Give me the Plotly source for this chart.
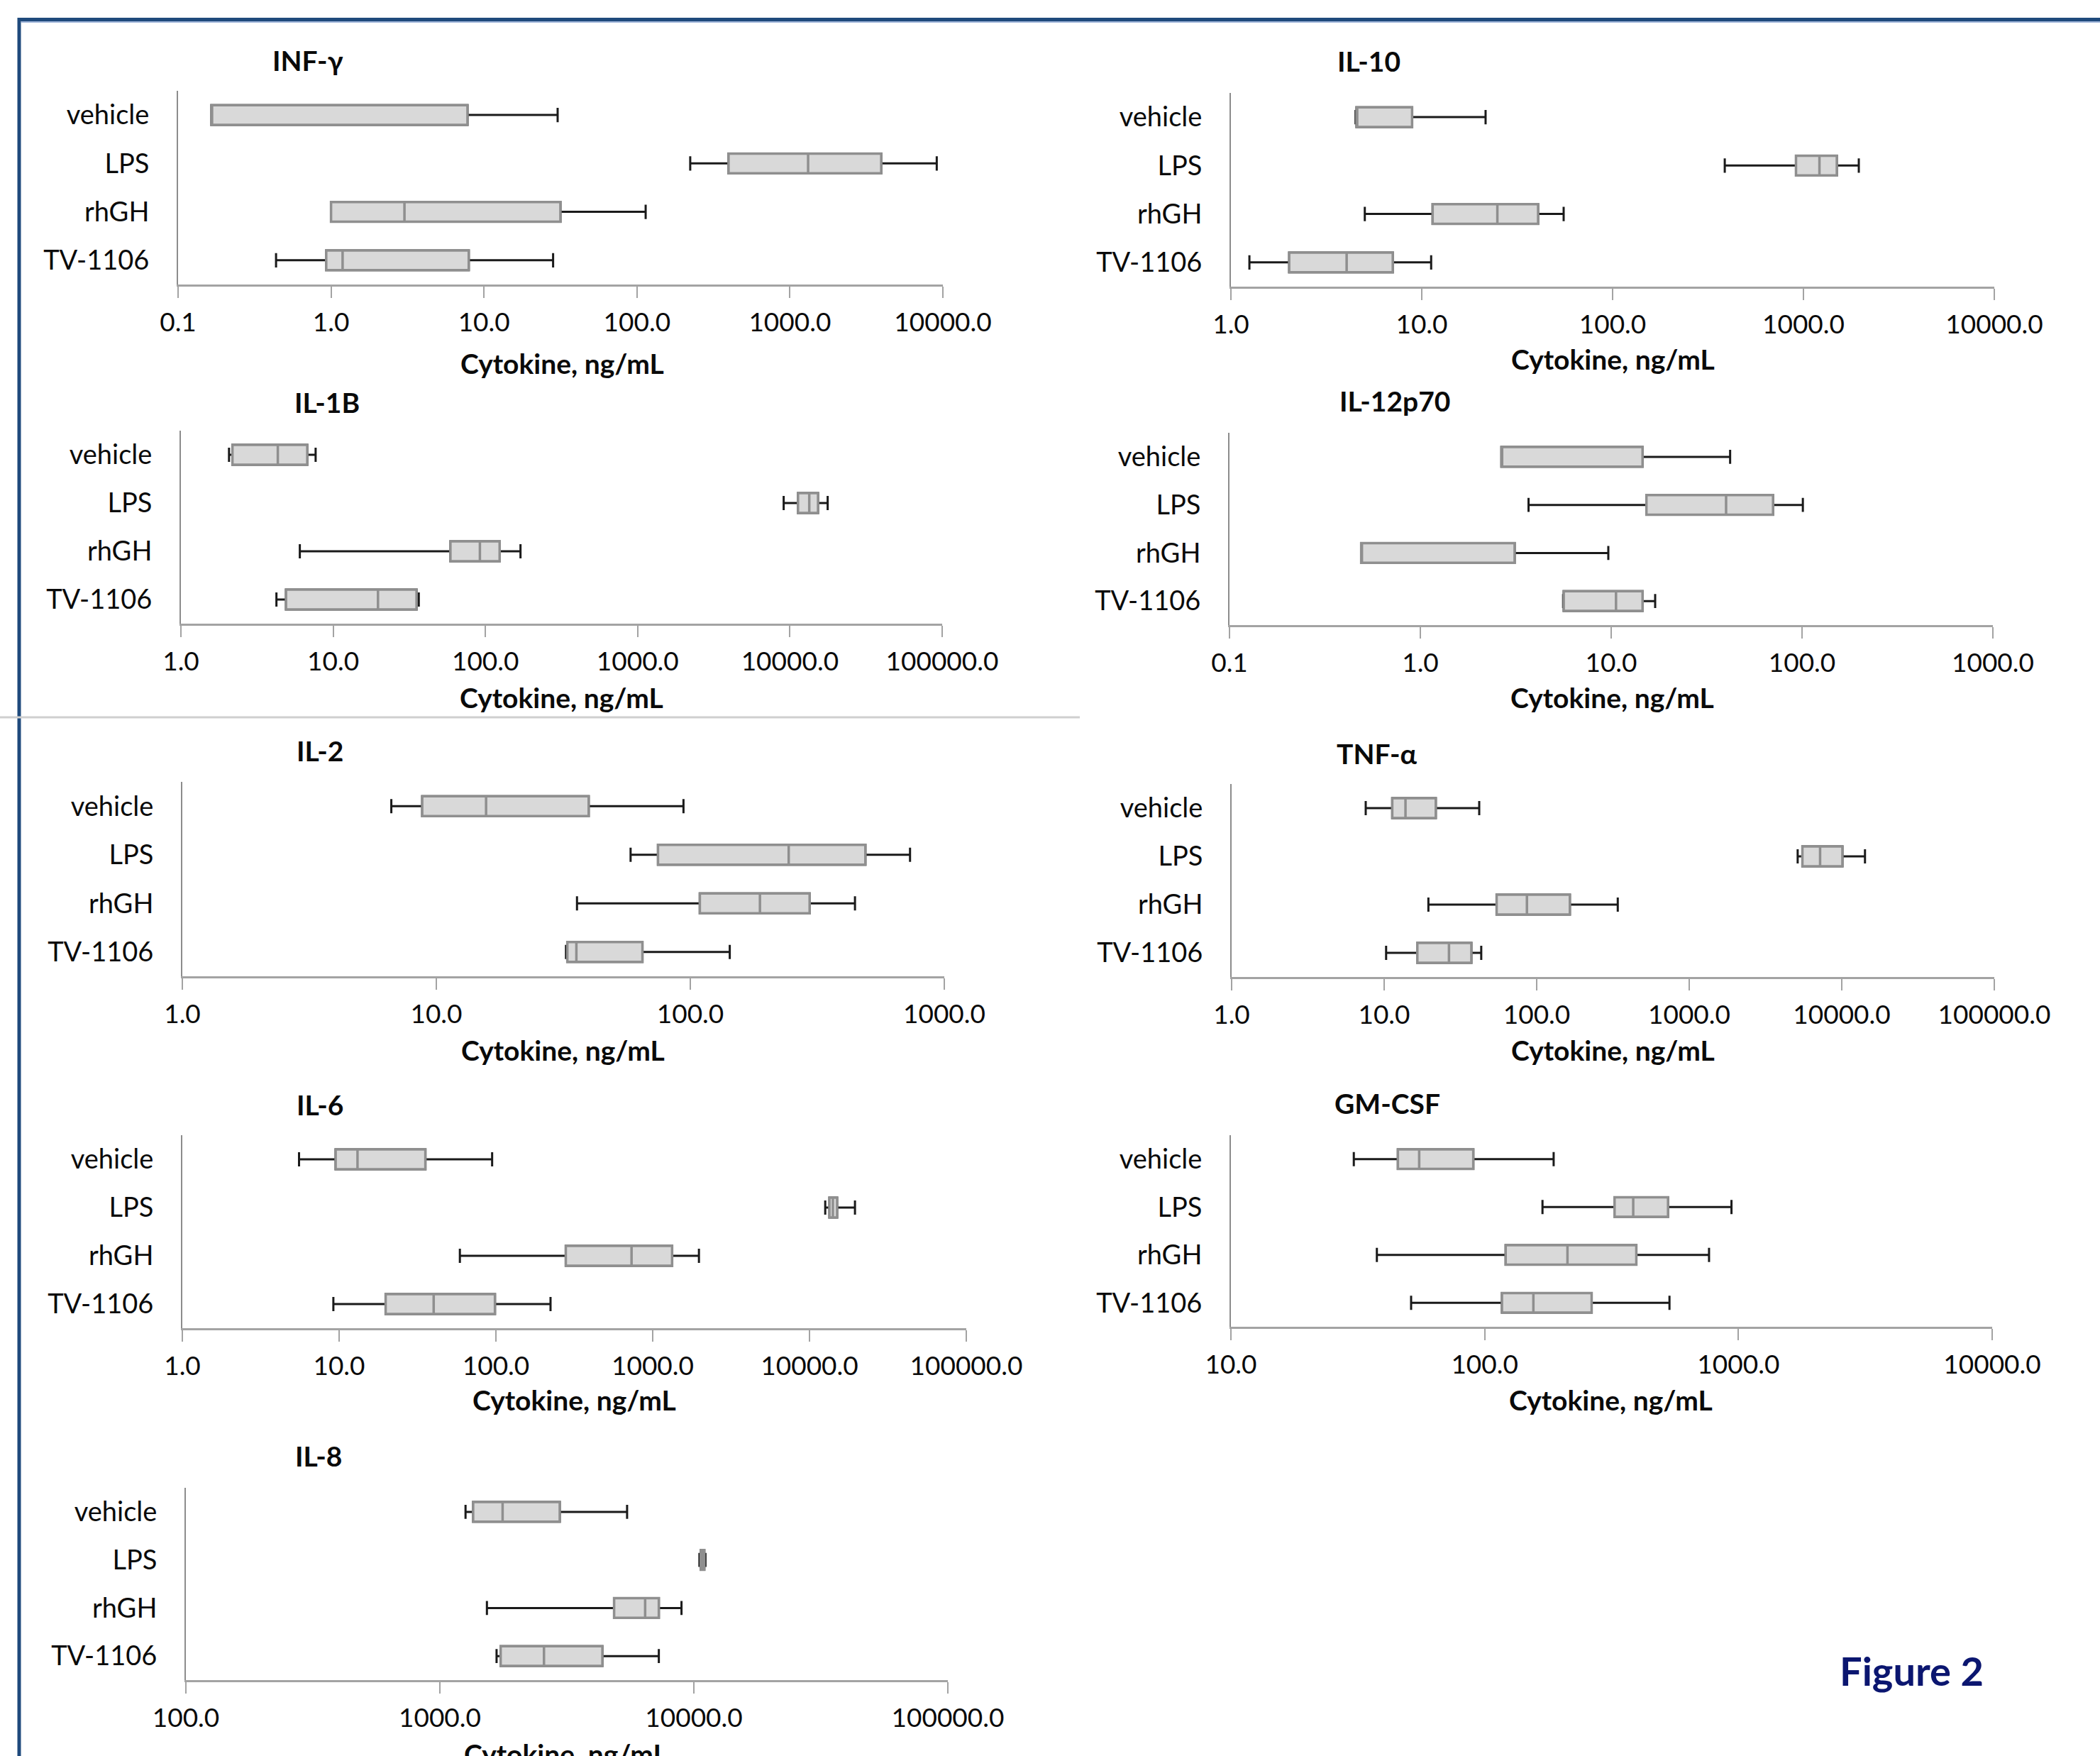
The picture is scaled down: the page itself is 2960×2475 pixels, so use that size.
import math
import plotly.graph_objects as go

W, H = 2960, 2475

GROUPS = ["vehicle", "LPS", "rhGH", "TV-1106"]

# Each row: [lower whisker, Q1, median, Q3, upper whisker] for vehicle, LPS, rhGH, TV-1106 (ng/mL)
inf_gamma = [[0.165, 0.165, 0.165, 7.8, 30.3],
             [223, 397, 1315, 3955, 9120],
             [1.0, 1.0, 3.02, 31.6, 114],
             [0.437, 0.93, 1.19, 7.95, 28.3]]
il_10 = [[4.5, 4.55, 4.55, 8.9, 21.6],
         [387, 914, 1213, 1496, 1950],
         [5.03, 11.4, 24.9, 40.7, 55.4],
         [1.25, 2.02, 4.04, 7.05, 11.2]]
il_1b = [[2.07, 2.18, 4.33, 6.76, 7.67],
         [9100, 11300, 13400, 15300, 17700],
         [6.04, 58.9, 92, 124, 170],
         [4.24, 4.9, 19.7, 35.3, 36.5]]
il_12p70 = [[2.66, 2.66, 2.66, 14.6, 42],
            [3.69, 15.3, 40, 70.5, 101],
            [0.49, 0.49, 0.49, 3.12, 9.66],
            [5.6, 5.64, 10.6, 14.6, 17.0]]
il_2 = [[6.65, 8.8, 15.7, 39.8, 94],
        [58.2, 74.6, 244, 489, 733],
        [35.8, 109, 188, 295, 445],
        [32.4, 32.8, 35.6, 64.8, 143]]
tnf_alpha = [[7.57, 11.3, 13.8, 21.8, 42],
             [5140, 5520, 7210, 10100, 14200],
             [19.5, 54.6, 86.3, 165, 340],
             [10.3, 16.5, 26.6, 37.3, 43.3]]
il_6 = [[5.55, 9.5, 13.1, 35.5, 94.6],
        [12600, 13400, 14100, 15000, 19500],
        [58.9, 279, 733, 1330, 1972],
        [9.19, 19.8, 40.1, 98.6, 223]]
gm_csf = [[30.5, 45.5, 55.2, 90.2, 187],
          [169, 325, 385, 528, 939],
          [37.6, 121, 212, 396, 766],
          [51.3, 117, 155.6, 264, 535]]
il_8 = [[1262, 1352, 1766, 2965, 5460],
        [10520, 10650, 10790, 10990, 11110],
        [1532, 4853, 6430, 7280, 8940],
        [1672, 1735, 2570, 4365, 7280]]

# Decade ticks of each panel's log axis
ticks_inf_gamma = [0.1, 1, 10, 100, 1000, 10000]
ticks_il_10 = [1, 10, 100, 1000, 10000]
ticks_il_1b = [1, 10, 100, 1000, 10000, 100000]
ticks_il_12p70 = [0.1, 1, 10, 100, 1000]
ticks_il_2 = [1, 10, 100, 1000]
ticks_tnf_alpha = [1, 10, 100, 1000, 10000, 100000]
ticks_il_6 = [1, 10, 100, 1000, 10000, 100000]
ticks_gm_csf = [10, 100, 1000, 10000]
ticks_il_8 = [100, 1000, 10000, 100000]

TITLES = ["INF-γ", "IL-10", "IL-1B", "IL-12p70", "IL-2", "TNF-α", "IL-6", "GM-CSF", "IL-8"]
DATA = [inf_gamma, il_10, il_1b, il_12p70, il_2, tnf_alpha, il_6, gm_csf, il_8]
TICKS = [ticks_inf_gamma, ticks_il_10, ticks_il_1b, ticks_il_12p70, ticks_il_2,
         ticks_tnf_alpha, ticks_il_6, ticks_gm_csf, ticks_il_8]
X_TITLE = "Cytokine, ng/mL"

# Layout geometry in pixels: x0, x1, plot top, axis line y, title x, title y, x-title x, x-title y
GEOM = [
    (251, 1329, 128, 401, 434, 85, 792, 512),
    (1735, 2811, 131, 404, 1929, 86, 2273, 506),
    (255, 1328, 607, 879, 461, 567, 791, 983),
    (1733, 2809, 610, 881, 1966, 565, 2272, 983),
    (257, 1331, 1102, 1376, 451, 1058, 794, 1480),
    (1736, 2811, 1105, 1377, 1941, 1062, 2273, 1480),
    (257, 1362, 1600, 1872, 451, 1557, 810, 1973),
    (1735, 2808, 1600, 1870, 1955, 1555, 2270, 1973),
    (262, 1336, 2097, 2368, 449, 2052, 797, 2472),
]

FONT = "Lato, 'Open Sans', sans-serif"
TXT = "#0a0a0a"


def px(x):
    return x / W


def py(y):
    return 1 - y / H


fig = go.Figure()
layout = dict(
    width=W, height=H, autosize=False,
    margin=dict(l=0, r=0, t=0, b=0, pad=0, autoexpand=False),
    paper_bgcolor="white", plot_bgcolor="white",
    showlegend=False, boxmode="overlay",
    font=dict(family=FONT, color=TXT),
    annotations=[], shapes=[],
)

for i, (title, rows, ticks, g) in enumerate(zip(TITLES, DATA, TICKS, GEOM), start=1):
    x0, x1, top, axy, tx, ty, xtx, xty = g
    xa, ya = f"x{i}", f"y{i}"
    lo = [r[0] for r in rows]
    q1 = [r[1] for r in rows]
    med = [r[2] for r in rows]
    q3 = [r[3] for r in rows]
    hi = [r[4] for r in rows]
    # whiskers (black)
    fig.add_trace(go.Box(
        y=GROUPS, q1=q1, median=med, q3=q3, lowerfence=lo, upperfence=hi,
        orientation="h", xaxis=xa, yaxis=ya, boxpoints=False,
        line=dict(color="#1a1a1a", width=3), fillcolor="#D9D9D9",
        whiskerwidth=0.72, width=0.41, hoverinfo="skip", showlegend=False))
    # boxes (grey outline)
    fig.add_trace(go.Box(
        y=GROUPS, q1=q1, median=med, q3=q3, lowerfence=q1, upperfence=q3,
        orientation="h", xaxis=xa, yaxis=ya, boxpoints=False,
        line=dict(color="#8F8F8F", width=3.5), fillcolor="#D9D9D9",
        whiskerwidth=0, width=0.41, hoverinfo="skip", showlegend=False))

    key = "" if i == 1 else str(i)
    layout[f"xaxis{key}"] = dict(
        type="log", domain=[px(x0), px(x1)], anchor=ya,
        range=[math.log10(ticks[0]), math.log10(ticks[-1])],
        tickmode="array", tickvals=ticks, ticktext=[f"{t:.1f}" for t in ticks],
        showline=True, linecolor="#A3A3A3", linewidth=3,
        ticks="outside", ticklen=16, tickwidth=2, tickcolor="#A3A3A3",
        showgrid=False, zeroline=False, ticklabelstandoff=3, automargin=False,
        tickfont=dict(family=FONT, size=37, color=TXT), fixedrange=True)
    layout[f"yaxis{key}"] = dict(
        type="category", domain=[py(axy), py(top)], anchor=xa,
        categoryorder="array", categoryarray=GROUPS, range=[3.5, -0.5],
        showline=True, linecolor="#8C8C8C", linewidth=2,
        ticks="outside", ticklen=31, tickcolor="rgba(0,0,0,0)",
        showgrid=False, zeroline=False, automargin=False,
        tickfont=dict(family=FONT, size=38, color=TXT), fixedrange=True)

    layout["annotations"].append(dict(
        text=title, x=px(tx), y=py(ty), xref="paper", yref="paper",
        xanchor="center", yanchor="middle", showarrow=False,
        font=dict(family=FONT, size=39, color=TXT, weight=700)))
    layout["annotations"].append(dict(
        text=X_TITLE, x=px(xtx), y=py(xty), xref="paper", yref="paper",
        xanchor="center", yanchor="middle", showarrow=False,
        font=dict(family=FONT, size=39, color=TXT, weight=700)))

layout["annotations"].append(dict(
    text="Figure 2", x=px(2694), y=py(2354), xref="paper", yref="paper",
    xanchor="center", yanchor="middle", showarrow=False,
    font=dict(family=FONT, size=56, color="#0B1670", weight=700)))

# frame border (dark blue) and faint inner line
layout["shapes"] += [
    dict(type="rect", xref="paper", yref="paper", x0=px(27), x1=1.05,
         y0=py(27.5), y1=-0.05, line=dict(color="#1F4A7C", width=5),
         fillcolor="rgba(0,0,0,0)"),
    dict(type="line", xref="paper", yref="paper", x0=px(30), x1=1.0,
         y0=py(31), y1=py(31), line=dict(color="#9DB3D8", width=2)),
    dict(type="line", xref="paper", yref="paper", x0=0, x1=px(1522),
         y0=py(1011), y1=py(1011), line=dict(color="#CFCFCF", width=3)),
]

fig.update_layout(**layout)
fig.write_html("out.html", config={"displayModeBar": False},
               post_script="document.body.style.margin='0';document.body.style.overflow='hidden';")
